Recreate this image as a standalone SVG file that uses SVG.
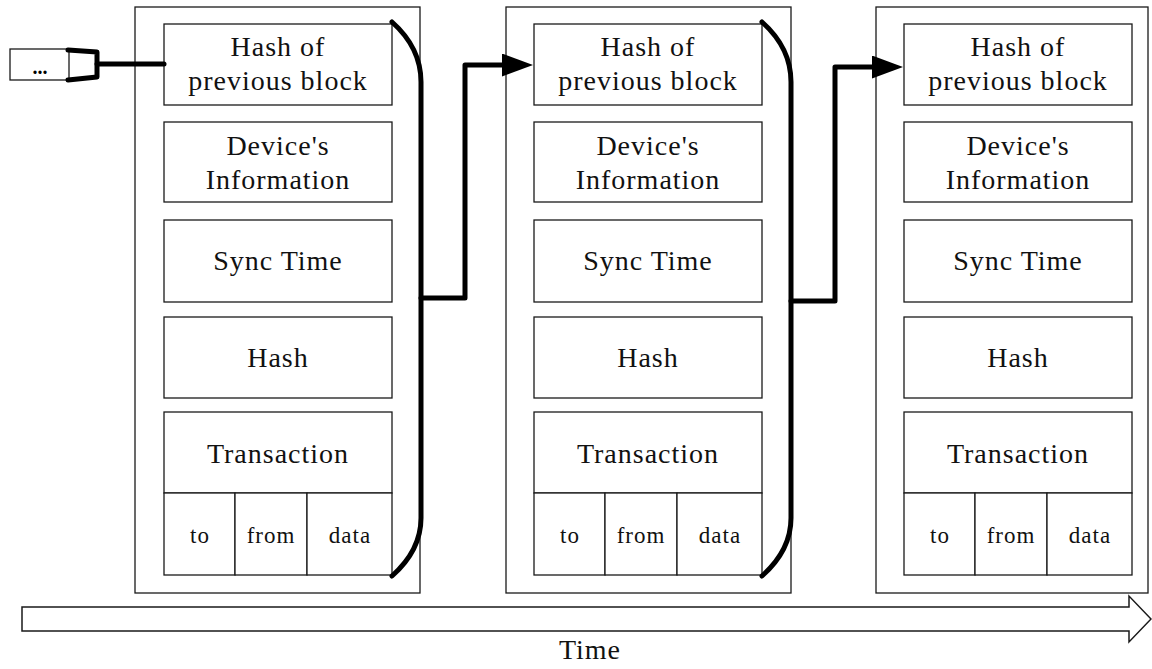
<svg xmlns="http://www.w3.org/2000/svg" width="1152" height="669" viewBox="0 0 1152 669">
  <style>
    .box { fill: #ffffff; stroke: #1a1a1a; stroke-width: 1.3; }
    .lbl { font-family: "Liberation Serif", "Times New Roman", serif; font-size: 28px; letter-spacing: 1px; fill: #111; text-anchor: middle; }
    .sub { font-family: "Liberation Serif", "Times New Roman", serif; font-size: 23px; letter-spacing: 1px; fill: #111; text-anchor: middle; }
    .link { fill: none; stroke: #000; stroke-width: 5; stroke-linejoin: round; stroke-linecap: round; }
    .time { fill: #ffffff; stroke: #1a1a1a; stroke-width: 1.5; }
  </style>
  <defs>
    <marker id="head" markerUnits="userSpaceOnUse" markerWidth="32" markerHeight="24" refX="0" refY="11.5" orient="auto">
      <path d="M0,0 L31,11.5 L0,23 Z" fill="#000"/>
    </marker>
  </defs>
  <rect width="1152" height="669" fill="#ffffff"/>

  <!-- earlier chain elided -->
  <g id="prev-chain">
    <rect class="box" x="10" y="49" width="59" height="31"/>
    <text x="40" y="74" font-family="Liberation Serif, serif" font-size="20" font-weight="bold" text-anchor="middle">...</text>
  </g>

  <!-- block 1 -->
  <g id="block1">
    <rect class="box" x="135" y="7" width="285" height="586"/>
    <g id="b1-prevhash">
      <rect class="box" x="164" y="24" width="228" height="81"/>
      <text class="lbl" x="278" y="56">Hash of</text>
      <text class="lbl" x="278" y="90">previous block</text>
    </g>
    <g id="b1-device">
      <rect class="box" x="164" y="122" width="228" height="80"/>
      <text class="lbl" x="278" y="155">Device's</text>
      <text class="lbl" x="278" y="189">Information</text>
    </g>
    <g id="b1-sync">
      <rect class="box" x="164" y="220" width="228" height="82"/>
      <text class="lbl" x="278" y="270">Sync Time</text>
    </g>
    <g id="b1-hash">
      <rect class="box" x="164" y="317" width="228" height="81"/>
      <text class="lbl" x="278" y="367">Hash</text>
    </g>
    <g id="b1-tx">
      <rect class="box" x="164" y="412" width="228" height="81"/>
      <text class="lbl" x="278" y="463">Transaction</text>
      <rect class="box" x="164" y="493" width="71" height="82"/>
      <rect class="box" x="235" y="493" width="72" height="82"/>
      <rect class="box" x="307" y="493" width="85" height="82"/>
      <text class="sub" x="200" y="543">to</text>
      <text class="sub" x="271" y="543">from</text>
      <text class="sub" x="350" y="543">data</text>
    </g>
  </g>

  <!-- block 2 -->
  <g id="block2" transform="translate(370,0)">
    <rect class="box" x="136" y="7" width="285" height="586"/>
    <g id="b2-prevhash">
      <rect class="box" x="164" y="24" width="228" height="81"/>
      <text class="lbl" x="278" y="56">Hash of</text>
      <text class="lbl" x="278" y="90">previous block</text>
    </g>
    <g id="b2-device">
      <rect class="box" x="164" y="122" width="228" height="80"/>
      <text class="lbl" x="278" y="155">Device's</text>
      <text class="lbl" x="278" y="189">Information</text>
    </g>
    <g id="b2-sync">
      <rect class="box" x="164" y="220" width="228" height="82"/>
      <text class="lbl" x="278" y="270">Sync Time</text>
    </g>
    <g id="b2-hash">
      <rect class="box" x="164" y="317" width="228" height="81"/>
      <text class="lbl" x="278" y="367">Hash</text>
    </g>
    <g id="b2-tx">
      <rect class="box" x="164" y="412" width="228" height="81"/>
      <text class="lbl" x="278" y="463">Transaction</text>
      <rect class="box" x="164" y="493" width="71" height="82"/>
      <rect class="box" x="235" y="493" width="72" height="82"/>
      <rect class="box" x="307" y="493" width="85" height="82"/>
      <text class="sub" x="200" y="543">to</text>
      <text class="sub" x="271" y="543">from</text>
      <text class="sub" x="350" y="543">data</text>
    </g>
  </g>

  <!-- block 3 -->
  <g id="block3" transform="translate(740,0)">
    <rect class="box" x="136" y="7" width="272" height="586"/>
    <g id="b3-prevhash">
      <rect class="box" x="164" y="24" width="228" height="81"/>
      <text class="lbl" x="278" y="56">Hash of</text>
      <text class="lbl" x="278" y="90">previous block</text>
    </g>
    <g id="b3-device">
      <rect class="box" x="164" y="122" width="228" height="80"/>
      <text class="lbl" x="278" y="155">Device's</text>
      <text class="lbl" x="278" y="189">Information</text>
    </g>
    <g id="b3-sync">
      <rect class="box" x="164" y="220" width="228" height="82"/>
      <text class="lbl" x="278" y="270">Sync Time</text>
    </g>
    <g id="b3-hash">
      <rect class="box" x="164" y="317" width="228" height="81"/>
      <text class="lbl" x="278" y="367">Hash</text>
    </g>
    <g id="b3-tx">
      <rect class="box" x="164" y="412" width="228" height="81"/>
      <text class="lbl" x="278" y="463">Transaction</text>
      <rect class="box" x="164" y="493" width="71" height="82"/>
      <rect class="box" x="235" y="493" width="72" height="82"/>
      <rect class="box" x="307" y="493" width="85" height="82"/>
      <text class="sub" x="200" y="543">to</text>
      <text class="sub" x="271" y="543">from</text>
      <text class="sub" x="350" y="543">data</text>
    </g>
  </g>

  <!-- hash links between blocks -->
  <g id="connectors">
    <path class="link" d="M68,50 L97,52 L97,77 L68,80"/>
    <path class="link" d="M97,64 L164,64"/>
    <path class="link" d="M392,22 C410,38 421,58 421,82 L421,518 C421,542 410,560 392,576"/>
    <path class="link" d="M421,298 L465,298 L465,65 L502,65" marker-end="url(#head)"/>
    <path class="link" d="M762,22 C780,38 791,58 791,82 L791,518 C791,542 780,560 762,576"/>
    <path class="link" d="M791,301 L835,301 L835,67 L872,67" marker-end="url(#head)"/>
  </g>

  <!-- time axis -->
  <g id="time-axis">
    <path class="time" d="M22,607 L1129,607 L1129,596 L1151,619 L1129,642 L1129,631 L22,631 Z"/>
    <text class="lbl" x="590" y="659">Time</text>
  </g>
</svg>
